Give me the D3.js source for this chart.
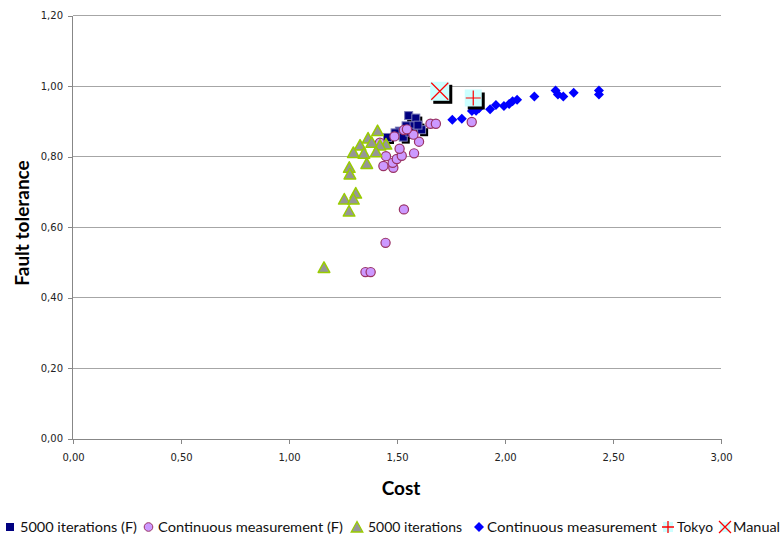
<!DOCTYPE html>
<html>
<head>
<meta charset="utf-8">
<script src="https://cdn.jsdelivr.net/npm/d3@7"></script>
<style>
  html, body { margin: 0; padding: 0; background: #fff; }
  svg { display: block; }
</style>
</head>
<body>
<svg id="chart" width="783" height="535"></svg>
<script>
// [cost, fault tolerance] pairs per series
const iterationsF = [
  [1.554, 0.916], [1.587, 0.909], [1.614, 0.876], [1.575, 0.887], [1.542, 0.887],
  [1.511, 0.872], [1.491, 0.867], [1.456, 0.854], [1.529, 0.855], [1.560, 0.869],
  [1.597, 0.889]
];
const continuousF = [
  [1.532, 0.650], [1.447, 0.555], [1.354, 0.472], [1.378, 0.472], [1.437, 0.773],
  [1.483, 0.768], [1.480, 0.782], [1.499, 0.793], [1.522, 0.802], [1.449, 0.801],
  [1.512, 0.822], [1.579, 0.809], [1.602, 0.842], [1.576, 0.862], [1.488, 0.857],
  [1.532, 0.875], [1.546, 0.877], [1.655, 0.893], [1.680, 0.893], [1.846, 0.898],
  [1.421, 0.839]
];
const iterations = [
  [1.410, 0.872], [1.366, 0.851], [1.329, 0.831], [1.383, 0.839], [1.449, 0.834],
  [1.421, 0.831], [1.298, 0.810], [1.347, 0.808], [1.403, 0.812], [1.360, 0.779],
  [1.279, 0.768], [1.282, 0.749], [1.309, 0.695], [1.256, 0.678], [1.298, 0.678],
  [1.278, 0.644], [1.162, 0.484]
];
const continuous = [
  [1.756, 0.904], [1.800, 0.907], [1.847, 0.929], [1.866, 0.930], [1.880, 0.937],
  [1.931, 0.934], [1.958, 0.946], [1.995, 0.943], [2.019, 0.949], [2.035, 0.957],
  [2.056, 0.961], [2.136, 0.970], [2.234, 0.987], [2.245, 0.976], [2.270, 0.970],
  [2.318, 0.981], [2.435, 0.987], [2.435, 0.976]
];
const tokyo = [[1.853, 0.966]];
const manual = [[1.698, 0.985]];

const xTicks = [0, 0.5, 1, 1.5, 2, 2.5, 3];
const yTicks = [0, 0.2, 0.4, 0.6, 0.8, 1.0, 1.2];
const legendLabels = ["5000 iterations (F)", "Continuous measurement (F)", "5000 iterations",
                      "Continuous measurement", "Tokyo", "Manual"];

const svg = d3.select("#chart");
const plotLeft = 73, plotRight = 721, plotTop = 15.5, plotBottom = 438.5;
const x = d3.scaleLinear().domain([0, 3]).range([plotLeft, plotRight]);
const y = d3.scaleLinear().domain([0, 1.2]).range([plotBottom, plotTop]);
const fmt = v => d3.format(".2f")(v).replace(".", ",");
const axisColor = "#878787";

// horizontal gridlines
svg.append("g").selectAll("line").data(yTicks.slice(1)).join("line")
  .attr("x1", plotLeft).attr("x2", plotRight)
  .attr("y1", d => y(d)).attr("y2", d => y(d))
  .attr("stroke", "#a6a6a6").attr("stroke-width", 1).attr("shape-rendering", "crispEdges");

// axes
const xAxis = svg.append("g").attr("transform", `translate(0,${plotBottom})`)
  .call(d3.axisBottom(x).tickValues(xTicks).tickFormat(fmt).tickSize(5).tickPadding(10));
const yAxis = svg.append("g").attr("transform", `translate(${plotLeft},0)`)
  .call(d3.axisLeft(y).tickValues(yTicks).tickFormat(fmt).tickSize(5).tickPadding(5));
[xAxis, yAxis].forEach(g => {
  g.select(".domain").attr("stroke", axisColor).attr("shape-rendering", "crispEdges");
  g.selectAll(".tick line").attr("stroke", axisColor).attr("shape-rendering", "crispEdges");
  g.selectAll(".tick text").attr("fill", "#222").style("font-family", "DejaVu Sans")
    .style("font-size", "10px");
});
xAxis.select(".domain").attr("d", `M${plotLeft},0.5H${plotRight}`);
yAxis.select(".domain").attr("d", `M-0.5,${plotTop}V${plotBottom}`);

// axis titles
svg.append("text").attr("x", 401).attr("y", 495).attr("text-anchor", "middle")
  .style("font-family", "Lato").style("font-weight", "bold").style("font-size", "19px")
  .text("Cost");
svg.append("text").attr("transform", "translate(29,223) rotate(-90)").attr("text-anchor", "middle")
  .style("font-family", "Lato").style("font-weight", "bold").style("font-size", "19px")
  .text("Fault tolerance");

// marker shapes
const triPath = s => `M0,${-s * 0.6}L${s * 0.58},${s * 0.45}L${-s * 0.58},${s * 0.45}Z`;
const diaPath = s => `M0,${-s / 2}L${s / 2},0L0,${s / 2}L${-s / 2},0Z`;

const plot = svg.append("g");

// 5000 iterations (F): navy squares with drop shadow
plot.append("g").selectAll("rect").data(iterationsF).join("rect")
  .attr("x", d => x(d[0]) - 4 + 2.5).attr("y", d => y(d[1]) - 4 + 2.5)
  .attr("width", 8).attr("height", 8).attr("fill", "#000");
plot.append("g").selectAll("rect").data(iterationsF).join("rect")
  .attr("x", d => x(d[0]) - 4).attr("y", d => y(d[1]) - 4)
  .attr("width", 8).attr("height", 8)
  .attr("fill", "#000080").attr("stroke", "#7b7bb8").attr("stroke-width", 1);

// Continuous measurement (F): violet circles
plot.append("g").selectAll("circle").data(continuousF).join("circle")
  .attr("cx", d => x(d[0])).attr("cy", d => y(d[1])).attr("r", 4.6)
  .attr("fill", "#cc99ff").attr("stroke", "#993366").attr("stroke-width", 1.2);

// 5000 iterations: grey triangles with green outline
plot.append("g").selectAll("path").data(iterations).join("path")
  .attr("transform", d => `translate(${x(d[0])},${y(d[1])})`)
  .attr("d", triPath(10))
  .attr("fill", "#969696").attr("stroke", "#99cc00").attr("stroke-width", 1.5)
  .attr("stroke-linejoin", "round");

// Continuous measurement: blue diamonds
plot.append("g").selectAll("path").data(continuous).join("path")
  .attr("transform", d => `translate(${x(d[0])},${y(d[1])})`)
  .attr("d", diaPath(10)).attr("fill", "#0000ff");

// boxed markers with shadow
function boxMarker(g, cx, cy, s, kind) {
  const h = s / 2;
  g.append("rect").attr("x", cx - h + 3).attr("y", cy - h + 3).attr("width", s).attr("height", s)
    .attr("fill", "#000");
  g.append("rect").attr("x", cx - h).attr("y", cy - h).attr("width", s).attr("height", s)
    .attr("fill", "#ccffff");
  const m = h - 1;
  if (kind === "plus") {
    g.append("path").attr("d", `M${cx - m},${cy}H${cx + m}M${cx},${cy - m}V${cy + m}`)
      .attr("stroke", "#ff0000").attr("stroke-width", 1.2).attr("fill", "none");
  } else {
    g.append("path").attr("d", `M${cx - m},${cy - m}L${cx + m},${cy + m}M${cx + m},${cy - m}L${cx - m},${cy + m}`)
      .attr("stroke", "#ff0000").attr("stroke-width", 1.2).attr("fill", "none");
  }
}
tokyo.forEach(d => boxMarker(plot.append("g"), x(d[0]), y(d[1]), 17, "plus"));
manual.forEach(d => boxMarker(plot.append("g"), x(d[0]), y(d[1]), 19, "cross"));

// legend
const lg = svg.append("g");
const ly = 527;
const legendText = [
  { x: 20, w: 117 }, { x: 158, w: 185 }, { x: 368, w: 94 },
  { x: 487, w: 170 }, { x: 677, w: 36 }, { x: 733, w: 47 }
];
lg.selectAll("text").data(legendLabels).join("text")
  .attr("x", (d, i) => legendText[i].x).attr("y", ly + 5)
  .attr("textLength", (d, i) => legendText[i].w).attr("lengthAdjust", "spacingAndGlyphs")
  .style("font-family", "Lato").style("font-size", "14px").attr("fill", "#111")
  .text(d => d);
lg.append("rect").attr("x", 6).attr("y", ly - 4).attr("width", 8).attr("height", 8).attr("fill", "#000080");
lg.append("circle").attr("cx", 148.5).attr("cy", ly).attr("r", 4.3)
  .attr("fill", "#cc99ff").attr("stroke", "#993366").attr("stroke-width", 1);
lg.append("path").attr("transform", `translate(357,${ly + 0.5})`).attr("d", triPath(10))
  .attr("fill", "#969696").attr("stroke", "#99cc00").attr("stroke-width", 1.3);
lg.append("path").attr("transform", `translate(479,${ly})`).attr("d", diaPath(10)).attr("fill", "#0000ff");
lg.append("rect").attr("x", 663).attr("y", ly - 5).attr("width", 10).attr("height", 10).attr("fill", "#ccffff");
lg.append("path").attr("d", `M662,${ly}H674M668,${ly - 6}V${ly + 6}`)
  .attr("stroke", "#ff0000").attr("stroke-width", 1.3);
lg.append("rect").attr("x", 720).attr("y", ly - 5).attr("width", 10).attr("height", 10).attr("fill", "#ccffff");
lg.append("path").attr("d", `M719,${ly - 6}L731,${ly + 6}M731,${ly - 6}L719,${ly + 6}`)
  .attr("stroke", "#ff0000").attr("stroke-width", 1.3);
</script>
</body>
</html>
